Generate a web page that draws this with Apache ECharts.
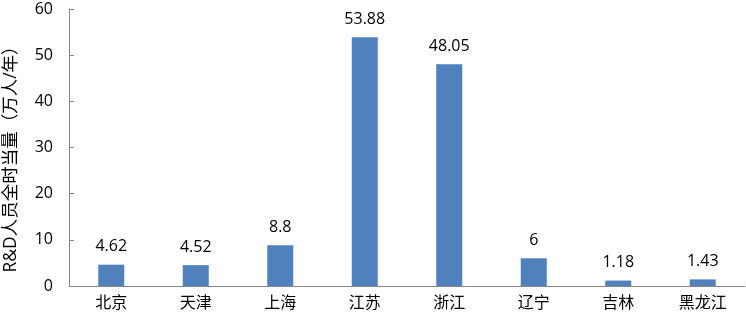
<!DOCTYPE html>
<html><head><meta charset="utf-8">
<script src="https://cdn.jsdelivr.net/npm/echarts@6/dist/echarts.min.js"></script>
<style>html,body{margin:0;padding:0;background:#fff}#c{width:746px;height:320px}</style>
</head><body><div id="c"></div>
<script>
const categories = ['北京','天津','上海','江苏','浙江','辽宁','吉林','黑龙江'];
const values = [4.62, 4.52, 8.8, 53.88, 48.05, 6, 1.18, 1.43];
const yName = 'R&D人员全时当量（万人/年）';
const font = '"Open Sans", "Noto Sans CJK SC", sans-serif';
const chart = echarts.init(document.getElementById('c'));
chart.setOption({
  animation: false,
  grid: {left: 69, right: 1, top: 9, bottom: 34, outerBoundsMode: 'none', containLabel: false},
  xAxis: {
    type: 'category', data: categories,
    axisLine: {lineStyle: {color: '#868686'}},
    axisTick: {inside: true, length: 5, lineStyle: {color: '#868686'}},
    axisLabel: {color: '#000', fontSize: 16, fontFamily: font, margin: 9}
  },
  yAxis: {
    type: 'value', min: 0, max: 60, interval: 10,
    name: yName, nameLocation: 'middle', nameGap: 49, nameRotate: 90,
    nameTextStyle: {color: '#000', fontSize: 17.5, fontFamily: font, padding: [0, 15, 0, 0]},
    splitLine: {show: false},
    axisLine: {show: true, lineStyle: {color: '#868686'}},
    axisTick: {show: true, inside: true, length: 5, lineStyle: {color: '#868686'}},
    axisLabel: {color: '#000', fontSize: 16, fontFamily: font, margin: 16}
  },
  series: [{
    type: 'bar', data: values, barWidth: 26,
    itemStyle: {color: '#4F81BD'},
    label: {show: true, position: 'top', distance: 10, color: '#000', fontSize: 16, fontFamily: font}
  }]
});
</script></body></html>
